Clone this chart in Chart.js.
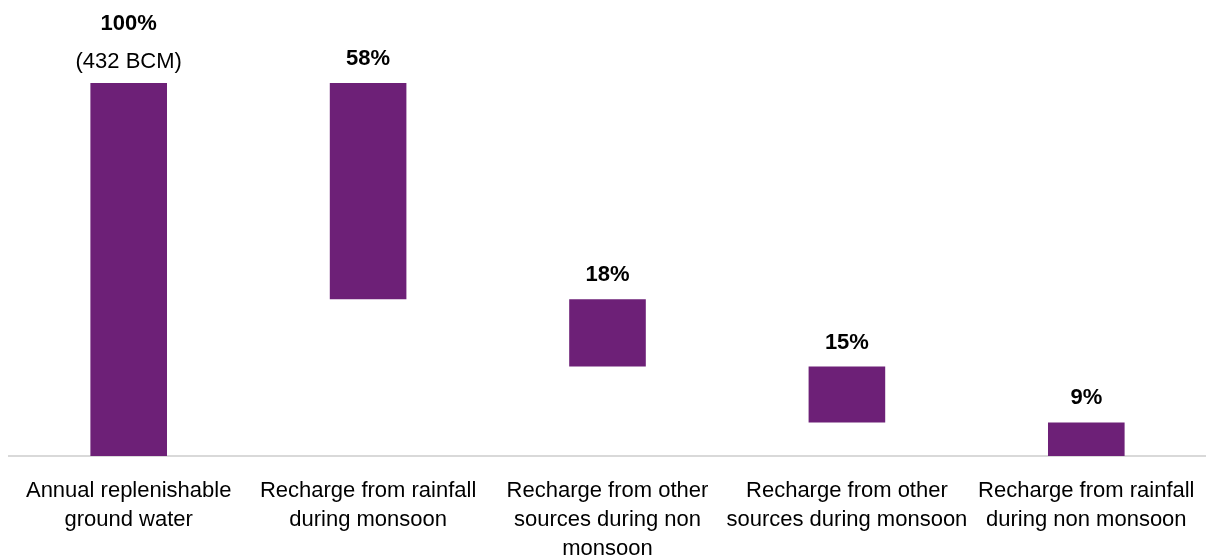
<!DOCTYPE html>
<html>
<head>
<meta charset="utf-8">
<script src="https://cdn.jsdelivr.net/npm/chart.js@4"></script>
<style>
  html, body { margin: 0; padding: 0; background: #fff; }
  #wrap { width: 1206px; height: 560px; }
</style>
</head>
<body>
<div id="wrap"><canvas id="chart" width="1206" height="560"></canvas></div>
<script>
const categories = [
    ['Annual replenishable', 'ground water'],
    ['Recharge from rainfall', 'during monsoon'],
    ['Recharge from other', 'sources during non', 'monsoon'],
    ['Recharge from other', 'sources during monsoon'],
    ['Recharge from rainfall', 'during non monsoon']
];
const shares = [100, 58, 18, 15, 9];
const isTotal = [true, false, false, false, false];
const totalNote = '(432 BCM)';

// waterfall: total bar from 0, parts stack down from the top
let level = 100;
const ranges = shares.map((v, i) => {
    if(isTotal[i]) return [0, v];
    const r = [level - v, level];
    level -= v;
    return r;
});

const barLabels = {
    id: 'barLabels',
    afterDatasetsDraw(chart){
        const ctx = chart.ctx;
        const meta = chart.getDatasetMeta(0);
        ctx.save();
        ctx.fillStyle = '#000';
        ctx.textAlign = 'center';
        ctx.textBaseline = 'bottom';
        meta.data.forEach((bar, i) => {
            const top = bar.y;
            if(isTotal[i]){
                ctx.font = '22px "Liberation Sans", Arial, sans-serif';
                ctx.fillText(totalNote, bar.x, top - 10);
                ctx.font = 'bold 22px "Liberation Sans", Arial, sans-serif';
                ctx.fillText(shares[i] + '%', bar.x, top - 48);
            } else {
                ctx.font = 'bold 22px "Liberation Sans", Arial, sans-serif';
                ctx.fillText(shares[i] + '%', bar.x, top - 13);
            }
        });
        ctx.restore();
    }
};

new Chart(document.getElementById('chart'), {
    type: 'bar',
    data: {
        labels: categories,
        datasets: [{
            data: ranges,
            backgroundColor: '#6d2077',
            borderWidth: 0,
            barPercentage: 1,
            categoryPercentage: 0.32,
            borderSkipped: false
        }]
    },
    options: {
        responsive: false,
        animation: false,
        layout: {padding: {top: 83, left: 9, right: 0, bottom: 0}},
        plugins: {legend: {display: false}, tooltip: {enabled: false}},
        scales: {
            x: {
                grid: {display: false, drawTicks: false},
                border: {display: true, color: '#d9d9d9', width: 2},
                ticks: {
                    color: '#000',
                    maxRotation: 0,
                    autoSkip: false,
                    padding: 20,
                    font: {family: '"Liberation Sans", Arial, sans-serif', size: 22, lineHeight: 1.32}
                },
                afterFit(scale){
                    scale.height = 104;
                    scale.paddingLeft = 0;
                    scale.paddingRight = 0;
                }
            },
            y: {
                display: false,
                min: 0,
                max: 100
            }
        }
    },
    plugins: [barLabels]
});
</script>
</body>
</html>
